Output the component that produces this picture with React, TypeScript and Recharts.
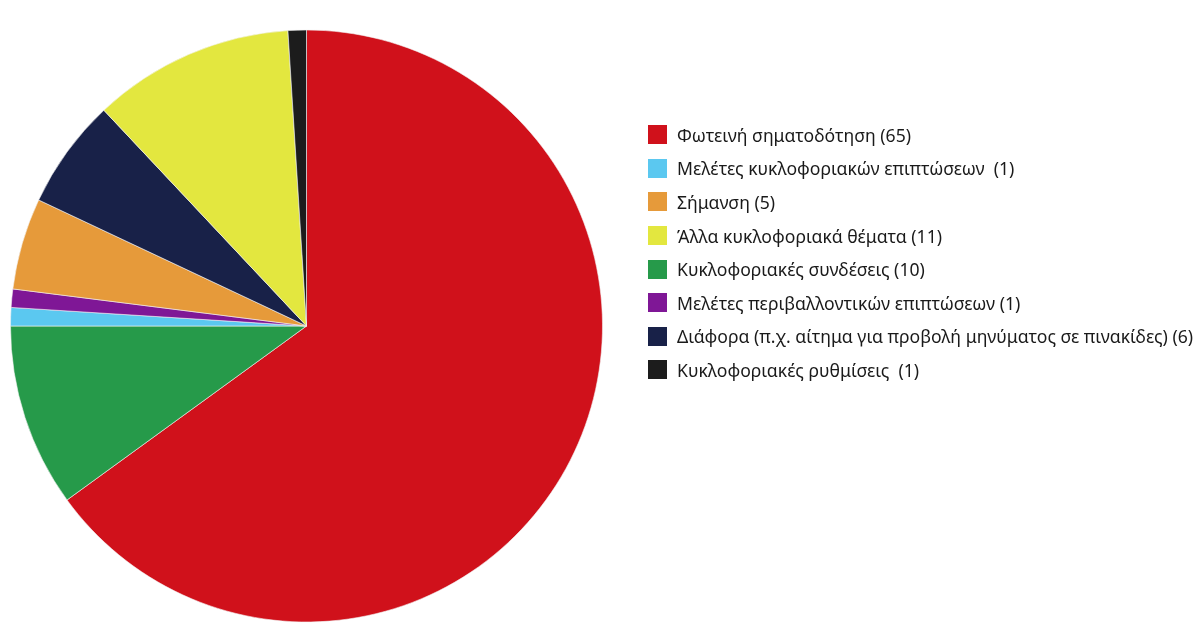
import React from "react";
import { Cell, Legend, Pie, PieChart } from "recharts";

// slice order, clockwise from 12 o'clock
const sliceNames = [
  "Φωτεινή σηματοδότηση",
  "Κυκλοφοριακές συνδέσεις",
  "Μελέτες κυκλοφοριακών επιπτώσεων ",
  "Μελέτες περιβαλλοντικών επιπτώσεων",
  "Σήμανση",
  "Διάφορα (π.χ. αίτημα για προβολή μηνύματος σε πινακίδες)",
  "Άλλα κυκλοφοριακά θέματα",
  "Κυκλοφοριακές ρυθμίσεις ",
];
const sliceValues = [65, 10, 1, 1, 5, 6, 11, 1];
const sliceColors = ["#d0111b", "#269a4a", "#5bc8f0", "#7f1796", "#e69a3a", "#182148", "#e3e73f", "#1c1c1c"];

// legend order as shown on the right
const legendOrder = [0, 2, 4, 6, 1, 3, 5, 7];

const data = sliceNames.map((name, i) => ({ name, value: sliceValues[i] }));

function LegendBox() {
  return (
    <div style={{ fontFamily: "'Noto Sans', sans-serif", fontSize: 17.6, color: "#1a1a1a" }}>
      {legendOrder.map((i) => (
        <div key={i} style={{ display: "flex", alignItems: "center", height: 33.6 }}>
          <span style={{ width: 19, height: 19, background: sliceColors[i], marginRight: 10, flexShrink: 0 }} />
          <span style={{ whiteSpace: "pre" }}>{`${sliceNames[i]} (${sliceValues[i]})`}</span>
        </div>
      ))}
    </div>
  );
}

export default function App() {
  return (
    <div style={{ position: "fixed", left: 0, top: 0, width: 1204, height: 640, background: "#fff" }}>
      <PieChart width={1204} height={640} margin={{ top: 0, right: 0, bottom: 0, left: 0 }}>
        <Pie
          data={data}
          dataKey="value"
          nameKey="name"
          cx={306.5}
          cy={326}
          outerRadius={296}
          startAngle={90}
          endAngle={-270}
          stroke="#f4f4f4"
          strokeWidth={0.6}
          isAnimationActive={false}
        >
          {data.map((d, i) => (
            <Cell key={d.name} fill={sliceColors[i]} />
          ))}
        </Pie>
        <Legend
          content={() => <LegendBox />}
          wrapperStyle={{ position: "absolute", left: 648, top: 118, width: 560 }}
        />
      </PieChart>
    </div>
  );
}
